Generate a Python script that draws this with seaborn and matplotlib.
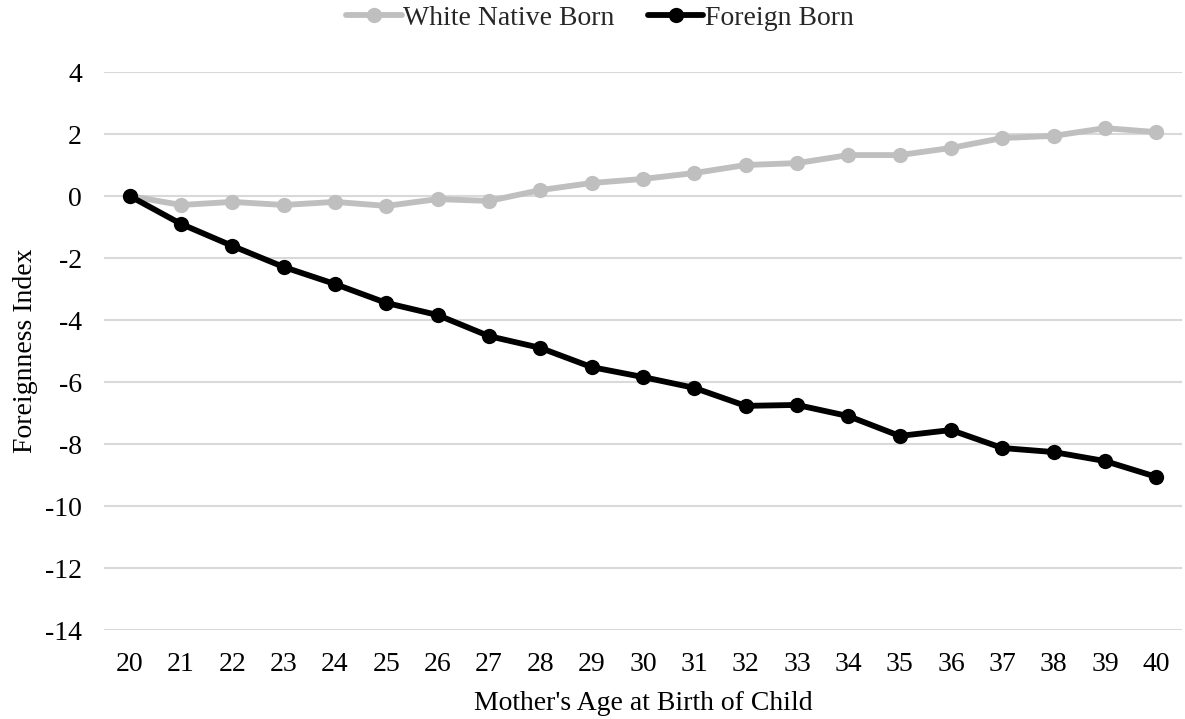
import matplotlib
matplotlib.use("Agg")
import matplotlib.pyplot as plt
import seaborn as sns
import pandas as pd

ages = list(range(20, 41))
white_native = [0, -0.29, -0.19, -0.29, -0.19, -0.32, -0.10, -0.16, 0.19, 0.42, 0.55,
                0.74, 1.00, 1.06, 1.32, 1.32, 1.55, 1.87, 1.94, 2.19, 2.06]
foreign_born = [0, -0.90, -1.61, -2.29, -2.84, -3.45, -3.84, -4.52, -4.90, -5.52, -5.84,
                -6.19, -6.77, -6.74, -7.10, -7.74, -7.55, -8.13, -8.26, -8.55, -9.06]
series_names = ["White Native Born", "Foreign Born"]
colors = ["#bfbfbf", "#000000"]

df = pd.DataFrame({
    "age": ages * 2,
    "value": white_native + foreign_born,
    "series": [series_names[0]] * len(ages) + [series_names[1]] * len(ages),
})

sns.set_theme(style="white")
plt.rcParams["font.family"] = ["Liberation Serif", "DejaVu Serif"]

fig = plt.figure(figsize=(11.85, 7.19), dpi=100)
ax = fig.add_axes([104 / 1185, 1 - 630 / 719, (1182 - 104) / 1185, (630 - 72) / 719])

for name, col in zip(series_names, colors):
    sub = df[df["series"] == name]
    sns.lineplot(data=sub, x="age", y="value", ax=ax, color=col, marker="o",
                 markersize=11, linewidth=4.2, markeredgewidth=0, label=name)

FS = 20
ax.set_xlim(19.5, 40.5)
ax.set_ylim(-14, 4)
ax.set_yticks(range(-14, 5, 2))
ax.set_yticklabels([str(v) for v in range(-14, 5, 2)])
ax.set_xticks(ages)
ax.set_xticklabels([str(a) for a in ages])
ax.yaxis.grid(True, color="#d9d9d9", linewidth=1.5)
ax.set_axisbelow(True)
for s in ax.spines.values():
    s.set_visible(False)
ax.tick_params(axis="both", labelsize=FS, length=0, colors="#000000")
ax.tick_params(axis="y", pad=16)
ax.tick_params(axis="x", pad=16)
ax.set_xlabel("Mother's Age at Birth of Child", fontsize=FS, labelpad=10, color="#000000")
ax.set_ylabel("Foreignness Index", fontsize=FS, labelpad=5, color="#000000")

ax.legend(loc="center", bbox_to_anchor=(0.46, 1.097), ncol=2, frameon=False,
          fontsize=FS, handlelength=2.0, handletextpad=0.05, columnspacing=1.2)

fig.savefig("out.png", dpi=100)
